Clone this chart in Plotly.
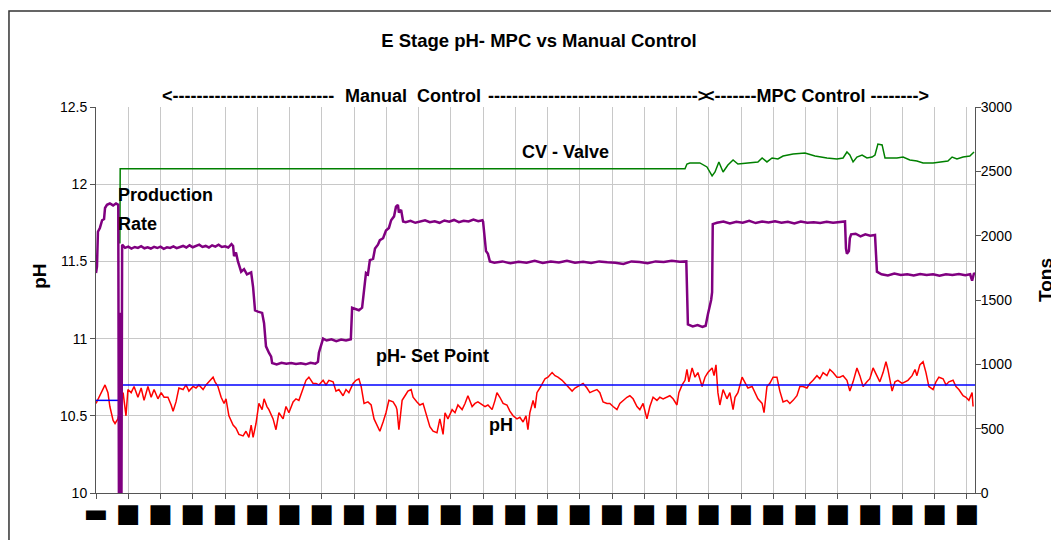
import plotly.graph_objects as go
from plotly.subplots import make_subplots

# sample index (one x-axis tick every 100 samples)
ph_x = [0, 9, 22, 28, 37, 43, 53, 59, 68, 74, 84, 93, 99, 109, 118, 130, 140, 149, 161, 171,
        180, 192, 202, 211, 223, 233, 239, 248, 257, 270, 279, 288, 301, 310, 319, 332, 341, 350, 363, 369,
        378, 388, 397, 403, 412, 425, 434, 443, 456, 465, 474, 481, 487, 496, 505, 515, 521, 530, 536, 549,
        558, 567, 580, 589, 598, 611, 620, 629, 642, 651, 660, 673, 682, 691, 704, 713, 722, 735, 744, 753,
        766, 775, 784, 797, 806, 815, 822, 831, 843, 853, 862, 874, 880, 890, 899, 908, 921, 930, 933, 939,
        949, 958, 967, 977, 983, 995, 1004, 1014, 1026, 1035, 1045, 1057, 1066, 1076, 1082, 1091, 1104, 1113, 1122, 1135,
        1144, 1153, 1166, 1175, 1184, 1197, 1206, 1215, 1228, 1237, 1243, 1252, 1262, 1274, 1283, 1293, 1305, 1314, 1324, 1333,
        1339, 1345, 1355, 1361, 1367, 1376, 1386, 1392, 1401, 1414, 1423, 1432, 1445, 1454, 1463, 1476, 1485, 1494, 1510, 1522,
        1531, 1541, 1553, 1562, 1572, 1584, 1593, 1603, 1615, 1624, 1634, 1646, 1655, 1665, 1677, 1686, 1696, 1708, 1717, 1727,
        1739, 1748, 1758, 1770, 1779, 1789, 1801, 1807, 1817, 1826, 1832, 1838, 1848, 1857, 1866, 1879, 1888, 1897, 1910, 1916,
        1922, 1928, 1934, 1944, 1956, 1965, 1975, 1981, 1990, 2003, 2012, 2021, 2034, 2043, 2052, 2065, 2071, 2080, 2089, 2099,
        2111, 2120, 2130, 2142, 2151, 2161, 2173, 2182, 2192, 2204, 2213, 2223, 2235, 2244, 2254, 2266, 2275, 2285, 2297, 2306,
        2316, 2328, 2337, 2347, 2359, 2368, 2378, 2390, 2399, 2409, 2421, 2430, 2440, 2449, 2455, 2468, 2477, 2486, 2499, 2508,
        2517, 2530, 2539, 2545, 2554, 2564, 2573, 2582, 2595, 2604, 2613, 2626, 2635, 2644, 2657, 2666, 2675, 2688, 2697, 2706,
        2716, 2719]
ph = [10.58, 10.62, 10.68, 10.70, 10.65, 10.56, 10.47, 10.45, 10.48, 10.55, 10.65, 10.50, 10.67, 10.65, 10.69, 10.62, 10.68, 10.60, 10.69, 10.62,
      10.67, 10.61, 10.65, 10.62, 10.62, 10.57, 10.53, 10.59, 10.68, 10.67, 10.70, 10.66, 10.69, 10.68, 10.70, 10.67, 10.70, 10.72, 10.75, 10.72,
      10.69, 10.62, 10.58, 10.61, 10.50, 10.44, 10.42, 10.38, 10.37, 10.40, 10.36, 10.44, 10.36, 10.45, 10.58, 10.54, 10.61, 10.56, 10.54, 10.48,
      10.41, 10.52, 10.48, 10.56, 10.52, 10.59, 10.61, 10.60, 10.67, 10.73, 10.75, 10.71, 10.71, 10.70, 10.73, 10.70, 10.73, 10.72, 10.66, 10.67,
      10.63, 10.67, 10.65, 10.71, 10.73, 10.74, 10.69, 10.58, 10.59, 10.57, 10.48, 10.42, 10.40, 10.46, 10.52, 10.60, 10.59, 10.56, 10.54, 10.41,
      10.60, 10.63, 10.66, 10.67, 10.62, 10.59, 10.57, 10.58, 10.49, 10.43, 10.40, 10.39, 10.48, 10.38, 10.52, 10.48, 10.54, 10.52, 10.57, 10.54,
      10.58, 10.63, 10.56, 10.58, 10.59, 10.57, 10.56, 10.57, 10.54, 10.60, 10.65, 10.62, 10.58, 10.57, 10.53, 10.50, 10.48, 10.49, 10.46, 10.50,
      10.41, 10.52, 10.60, 10.55, 10.65, 10.68, 10.72, 10.74, 10.75, 10.78, 10.76, 10.75, 10.73, 10.71, 10.69, 10.66, 10.68, 10.69, 10.71, 10.68,
      10.65, 10.66, 10.67, 10.65, 10.59, 10.58, 10.58, 10.56, 10.54, 10.58, 10.60, 10.62, 10.63, 10.61, 10.56, 10.54, 10.58, 10.48, 10.56, 10.62,
      10.60, 10.62, 10.61, 10.62, 10.63, 10.61, 10.57, 10.65, 10.70, 10.73, 10.80, 10.72, 10.81, 10.75, 10.78, 10.69, 10.75, 10.78, 10.81, 10.76,
      10.83, 10.65, 10.57, 10.67, 10.61, 10.65, 10.54, 10.62, 10.65, 10.75, 10.71, 10.68, 10.69, 10.65, 10.61, 10.58, 10.52, 10.69, 10.71, 10.75,
      10.75, 10.66, 10.59, 10.60, 10.58, 10.60, 10.63, 10.69, 10.69, 10.68, 10.71, 10.73, 10.76, 10.74, 10.78, 10.76, 10.80, 10.78, 10.75, 10.75,
      10.76, 10.73, 10.66, 10.72, 10.81, 10.76, 10.69, 10.72, 10.74, 10.81, 10.76, 10.72, 10.78, 10.85, 10.80, 10.66, 10.72, 10.73, 10.71, 10.72,
      10.73, 10.76, 10.80, 10.76, 10.83, 10.85, 10.78, 10.69, 10.67, 10.72, 10.75, 10.74, 10.70, 10.72, 10.73, 10.69, 10.67, 10.63, 10.62, 10.60,
      10.65, 10.56]

sp_x = [0, 74, 76, 80, 2725]
sp = [10.6, 10.6, None, 10.7, 10.7]

prod_x = [0, 3, 6, 12, 19, 25, 28, 34, 43, 53, 62, 68, 69, 71, 73, 75, 77, 79, 81,
          90, 100, 110, 120, 130, 140, 150, 160, 170, 180, 190, 200, 210, 220, 230, 240, 250, 260, 270, 280,
          290, 300, 310, 320, 330, 340, 350, 360, 370, 380, 390, 400, 410, 420, 425,
          428, 434, 440, 450, 459, 468, 481, 487, 493, 502, 515, 521, 527, 536, 543, 546,
          560, 575, 590, 605, 620, 635, 650, 665, 680, 688, 691, 698, 704, 715, 730, 745, 760, 775, 790,
          794, 803, 815, 825, 831, 837, 843, 849, 859, 865, 874, 880, 890, 899, 908, 915, 924, 930, 936, 939, 946, 952,
          960, 975, 990, 1005, 1020, 1035, 1050, 1065, 1080, 1095, 1110, 1125, 1140, 1155, 1170, 1185, 1198,
          1200, 1206, 1209, 1215, 1221, 1235, 1260, 1285, 1310, 1335, 1360, 1385, 1410, 1435, 1460, 1485, 1510,
          1535, 1560, 1585, 1610, 1635, 1660, 1685, 1710, 1735, 1760, 1785, 1810, 1830,
          1835, 1850, 1865, 1880, 1890, 1897, 1903, 1907, 1910, 1912,
          1925, 1945, 1965, 1985, 2005, 2025, 2045, 2065, 2085, 2105, 2125, 2145, 2165, 2185, 2205, 2225, 2245,
          2265, 2285, 2305, 2322, 2325, 2328, 2334, 2337, 2341, 2355, 2370, 2385, 2400, 2415,
          2421, 2435, 2455, 2475, 2495, 2515, 2535, 2555, 2575, 2595, 2615, 2635, 2655, 2675, 2695, 2710, 2716, 2722, 2725]
prod = [1710, 1760, 2030, 2060, 2120, 2130, 2215, 2240, 2250, 2235, 2250, 2245, 2240, 0, 1350, 0, 1400, 0, 1930,
        1905, 1915, 1900, 1912, 1905, 1918, 1902, 1910, 1900, 1913, 1904, 1915, 1898, 1910, 1905, 1916, 1903, 1912, 1920, 1908,
        1925, 1910, 1918, 1930, 1912, 1920, 1908, 1925, 1915, 1930, 1912, 1918, 1908, 1935, 1920,
        1840, 1870, 1800, 1720, 1740, 1700, 1715, 1600, 1420, 1410, 1400, 1320, 1140, 1090, 1060, 1010,
        1000, 1012, 1005, 1010, 1002, 1008, 1000, 1012, 1005, 1020, 1090, 1150, 1200, 1185, 1195, 1180, 1192, 1185, 1195,
        1440, 1430, 1420, 1440, 1600, 1710, 1700, 1810, 1820, 1900, 1930, 1965, 1980, 2040, 2060, 2120, 2150, 2225, 2240, 2180, 2200, 2110,
        2105, 2115, 2100, 2110, 2120, 2105, 2112, 2100, 2118, 2108, 2122, 2105, 2115, 2110, 2125, 2112, 2120,
        2110, 1960, 1880, 1860, 1800, 1790, 1800, 1785, 1798, 1790, 1805, 1788, 1800, 1792, 1805, 1790, 1798,
        1787, 1800, 1793, 1790, 1780, 1800, 1795, 1785, 1800, 1795, 1805, 1798, 1800,
        1310, 1295, 1305, 1290, 1300, 1390, 1450, 1500, 1560, 2090,
        2100, 2110, 2095, 2108, 2100, 2115, 2098, 2110, 2102, 2112, 2100, 2108, 2095, 2110, 2100, 2105, 2098,
        2108, 2100, 2105, 2110, 1900, 1860, 1880, 1980, 2010, 2015, 1995, 2010, 2000, 2005,
        1720, 1700, 1690, 1705, 1695, 1700, 1690, 1702, 1695, 1700, 1688, 1700, 1695, 1702, 1692, 1700, 1650, 1710, 1700]

valve_x = [74, 75, 1826, 1832, 1841, 1872, 1894, 1910, 1919, 1931, 1944, 1959, 1975, 1990, 2021, 2052, 2065,
           2080, 2096, 2114, 2130, 2161, 2198, 2229, 2266, 2297, 2316, 2328, 2337, 2347, 2359, 2375, 2390, 2406,
           2415, 2424, 2437, 2446, 2461, 2483, 2502, 2523, 2545, 2564, 2595, 2626, 2641, 2654, 2669, 2688, 2709, 2722]
valve = [1940, 2520, 2520, 2557, 2565, 2565, 2534, 2464, 2495, 2573, 2495, 2549, 2588, 2557, 2565, 2573, 2604,
         2573, 2604, 2596, 2619, 2635, 2642, 2619, 2604, 2596, 2604, 2650, 2627, 2573, 2611, 2627, 2604, 2611,
         2627, 2712, 2705, 2604, 2604, 2604, 2611, 2588, 2580, 2565, 2565, 2573, 2580, 2611, 2596, 2611, 2619, 2650]

tick_vals = list(range(0, 2800, 100))
tick_text = ["\u25ac"] + ["\u25a0"] * (len(tick_vals) - 1)

FONT = "Liberation Sans, Arial"

fig = make_subplots(specs=[[{"secondary_y": True}]])
fig.add_trace(go.Scatter(x=ph_x, y=ph, mode="lines", line=dict(color="#ff0000", width=1.5),
                         name="pH"), secondary_y=False)
fig.add_trace(go.Scatter(x=sp_x, y=sp, mode="lines", line=dict(color="#0000ff", width=1.5),
                         name="pH- Set Point", connectgaps=False), secondary_y=False)
fig.add_trace(go.Scatter(x=valve_x, y=valve, mode="lines", line=dict(color="#008000", width=1.5),
                         name="CV - Valve"), secondary_y=True)
fig.add_trace(go.Scatter(x=prod_x, y=prod, mode="lines", line=dict(color="#800080", width=2.5),
                         name="Production Rate"), secondary_y=True)

bold = dict(family=FONT, size=18, color="black")
axis_title_font = dict(family=FONT, size=19, color="black")
notes = [
    dict(x=0.0728, y=1.028, xref="paper", yref="paper", xanchor="left",
         text="<b><" + "-" * 27 + "</b>"),
    dict(x=0.3606, y=1.028, xref="paper", yref="paper", xanchor="center",
         text="<b>Manual  Control</b>"),
    dict(x=0.6985, y=1.028, xref="paper", yref="paper", xanchor="right",
         text="<b>" + "-" * 35 + "></b>"),
    dict(x=0.6895, y=1.028, xref="paper", yref="paper", xanchor="left",
         text="<b><-------MPC Control --------></b>"),
    dict(x=1457, y=12.21, xref="x", yref="y", xanchor="center", text="<b>CV - Valve</b>"),
    dict(x=62, y=11.93, xref="x", yref="y", xanchor="left", text="<b>Production</b>"),
    dict(x=62, y=11.74, xref="x", yref="y", xanchor="left", text="<b>Rate</b>"),
    dict(x=1042, y=10.89, xref="x", yref="y", xanchor="center", text="<b>pH- Set Point</b>"),
    dict(x=1256, y=10.44, xref="x", yref="y", xanchor="center", text="<b>pH</b>"),
    dict(x=-0.0637, y=0.56, xref="paper", yref="paper", xanchor="center", textangle=-90,
         text="<b>pH</b>", font=axis_title_font),
    dict(x=1.0808, y=0.552, xref="paper", yref="paper", xanchor="center", textangle=-90,
         text="<b>Tons</b>", font=axis_title_font),
]
for n in notes:
    n.setdefault("yanchor", "middle")
    n.setdefault("font", bold)
    fig.add_annotation(showarrow=False, **n)

fig.add_shape(type="rect", xref="paper", yref="paper", x0=-0.099, x1=1.2, y0=-0.3, y1=1.2487,
              line=dict(color="#333333", width=1.5), fillcolor="rgba(0,0,0,0)", layer="below")

# the page body adds an 8px offset, so margins are 8px smaller on the left/top
fig.update_layout(
    width=1059, height=540,
    margin=dict(l=88, r=92, t=99, b=55),
    paper_bgcolor="white", plot_bgcolor="white",
    showlegend=False,
    title=dict(text="<b>E Stage pH- MPC vs Manual Control</b>", x=0.5014, xanchor="center",
               y=0.939, yanchor="middle", automargin=False,
               font=dict(family=FONT, size=18.5, color="black")),
)
fig.update_xaxes(range=[0, 2725], domain=[0, 1], tickmode="array", tickvals=tick_vals, ticktext=tick_text,
                 showgrid=True, gridcolor="#c8c8c8", gridwidth=1, automargin=False,
                 showline=True, linecolor="#555555", linewidth=1,
                 ticks="outside", ticklen=5, tickcolor="#555555", ticklabelstandoff=-8,
                 tickfont=dict(family="DejaVu Sans", size=26, color="black"), zeroline=False)
fig.update_yaxes(range=[10, 12.5], dtick=0.5, tick0=10, showgrid=True, gridcolor="#c8c8c8",
                 showline=True, linecolor="#555555", linewidth=1, ticks="outside", ticklen=5,
                 tickcolor="#555555", tickfont=dict(family=FONT, size=14, color="black"),
                 zeroline=False, automargin=False, secondary_y=False)
fig.update_yaxes(range=[0, 3000], dtick=500, tick0=0, showgrid=False,
                 showline=True, linecolor="#555555", linewidth=1, ticks="outside", ticklen=5,
                 tickcolor="#555555", tickfont=dict(family=FONT, size=14, color="black"),
                 ticklabelstandoff=-3, zeroline=False, automargin=False, secondary_y=True)

fig.write_html("out.html")
